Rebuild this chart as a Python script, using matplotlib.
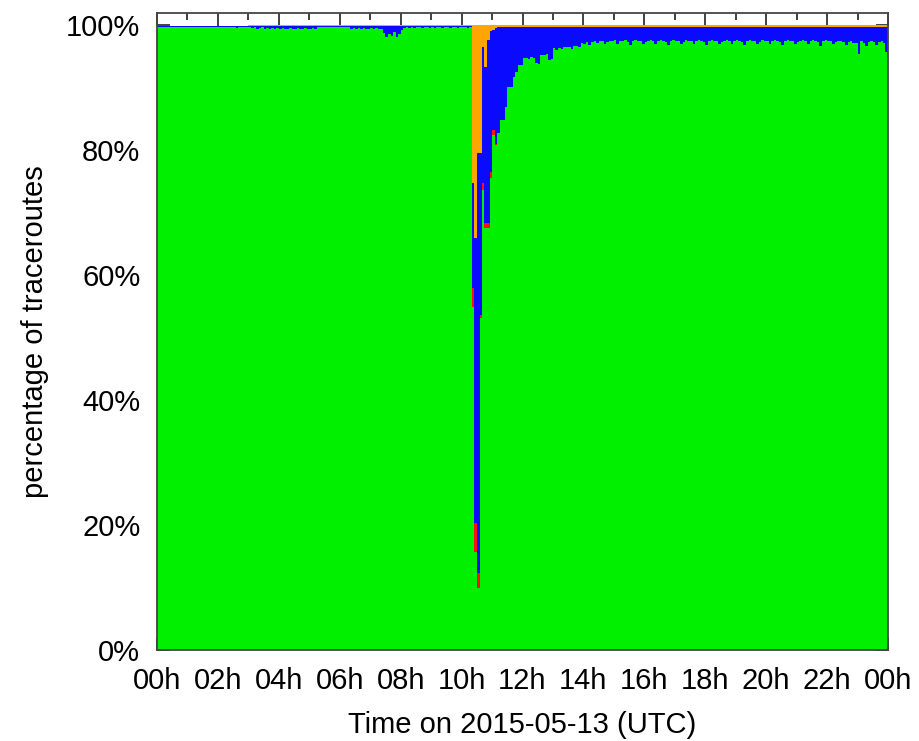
import numpy as np
import matplotlib
matplotlib.use("Agg")
from matplotlib import pyplot as plt
from matplotlib.ticker import MultipleLocator, FuncFormatter

# share of traceroutes per 5-minute bin, 2015-05-13 (one row per hour)
green = [
    99.7, 99.7, 99.6, 99.7, 99.7, 99.7, 99.6, 99.7, 99.7, 99.7, 99.6, 99.7,
    99.7, 99.7, 99.7, 99.6, 99.7, 99.7, 99.7, 99.7, 99.6, 99.7, 99.7, 99.7,
    99.6, 99.7, 99.7, 99.6, 99.7, 99.6, 99.7, 99.5, 99.6, 99.7, 99.6, 99.6,
    99.6, 99.5, 99.6, 99.4, 99.5, 99.6, 99.4, 99.5, 99.3, 99.5, 99.4, 99.5,
    99.4, 99.5, 99.3, 99.4, 99.5, 99.3, 99.4, 99.5, 99.4, 99.3, 99.5, 99.4,
    99.4, 99.5, 99.3, 99.6, 99.6, 99.7, 99.6, 99.6, 99.7, 99.6, 99.6, 99.7,
    99.6, 99.6, 99.7, 99.6, 99.4, 99.5, 99.4, 99.5, 99.3, 99.5, 99.4, 99.4,
    99.5, 99.4, 99.5, 99.3, 99.4, 98.7, 98.0, 98.6, 98.2, 98.9, 98.1, 98.6,
    99.2, 99.5, 99.6, 99.5, 99.6, 99.5, 99.6, 99.6, 99.5, 99.6, 99.6, 99.5,
    99.6, 99.5, 99.6, 99.6, 99.5, 99.6, 99.6, 99.5, 99.6, 99.6, 99.5, 99.6,
    99.6, 99.6, 99.5, 99.6, 54.9, 15.7, 9.9, 53.1, 73.6, 67.5, 67.5, 75.5,
    82.4, 80.8, 82.7, 84.8, 84.8, 86.9, 90.1, 90.1, 91.7, 92.5, 93.6, 93.6,
    94.7, 94.7, 94.5, 94.8, 94.7, 93.9, 93.7, 95.2, 95.2, 95.3, 94.4, 94.5,
    96.3, 96.0, 96.3, 96.1, 96.4, 96.4, 96.5, 96.2, 96.6, 96.7, 96.4, 97.1,
    97.0, 97.2, 96.8, 97.3, 97.4, 97.1, 97.4, 97.5, 96.9, 97.3, 97.5, 97.4,
    97.6, 97.0, 97.4, 97.5, 97.6, 97.3, 96.8, 97.4, 97.6, 97.5, 97.4, 96.9,
    97.3, 97.5, 97.6, 97.4, 97.0, 97.5, 97.6, 97.5, 97.3, 96.8, 97.4, 97.6,
    97.5, 97.4, 96.9, 97.3, 97.6, 97.5, 97.4, 97.0, 97.4, 97.6, 97.5, 97.3,
    96.8, 97.4, 97.6, 97.5, 97.4, 96.9, 97.3, 97.5, 97.6, 97.4, 97.0, 97.5,
    97.6, 97.5, 97.3, 96.8, 97.4, 97.6, 97.5, 97.4, 96.9, 97.3, 97.6, 97.5,
    97.4, 97.0, 97.4, 97.6, 97.5, 97.3, 96.8, 97.4, 97.6, 97.5, 97.4, 96.9,
    97.3, 97.5, 97.6, 97.4, 97.0, 97.5, 97.6, 97.5, 97.3, 96.7, 97.4, 97.6,
    97.5, 97.4, 96.9, 97.3, 97.5, 97.4, 97.3, 96.8, 97.2, 97.5, 97.1, 97.1,
    95.3, 97.4, 97.1, 96.7, 97.3, 97.4, 97.2, 96.8, 97.3, 97.4, 97.1, 95.7,
]

red = [
    0, 0, 0, 0, 0, 0, 0, 0, 0, 0, 0, 0,
    0, 0, 0, 0, 0, 0, 0, 0, 0, 0, 0, 0,
    0, 0, 0, 0, 0, 0, 0, 0, 0, 0, 0, 0,
    0, 0, 0, 0, 0, 0, 0, 0, 0, 0, 0, 0,
    0, 0, 0, 0, 0, 0, 0, 0, 0, 0, 0, 0,
    0, 0, 0, 0, 0, 0, 0, 0, 0, 0, 0, 0,
    0, 0, 0, 0, 0, 0, 0, 0, 0, 0, 0, 0,
    0, 0, 0, 0, 0, 0, 0, 0, 0, 0, 0, 0,
    0, 0, 0, 0, 0, 0, 0, 0, 0, 0, 0, 0,
    0, 0, 0, 0, 0, 0, 0, 0, 0, 0, 0, 0,
    0, 0, 0, 0, 3.0, 4.6, 2.4, 0.5, 1.1, 0.8, 0.8, 1.0,
    0.8, 0.2, 0, 0, 0, 0, 0, 0, 0, 0, 0, 0,
    0, 0, 0, 0, 0, 0, 0, 0, 0, 0, 0, 0,
    0, 0, 0, 0, 0, 0, 0, 0, 0, 0, 0, 0,
    0, 0, 0, 0, 0, 0, 0, 0, 0, 0, 0, 0,
    0, 0, 0, 0, 0, 0, 0, 0, 0, 0, 0, 0,
    0, 0, 0, 0, 0, 0, 0, 0, 0, 0, 0, 0,
    0, 0, 0, 0, 0, 0, 0, 0, 0, 0, 0, 0,
    0, 0, 0, 0, 0, 0, 0, 0, 0, 0, 0, 0,
    0, 0, 0, 0, 0, 0, 0, 0, 0, 0, 0, 0,
    0, 0, 0, 0, 0, 0, 0, 0, 0, 0, 0, 0,
    0, 0, 0, 0, 0, 0, 0, 0, 0, 0, 0, 0,
    0, 0, 0, 0, 0, 0, 0, 0, 0, 0, 0, 0,
    0, 0, 0, 0, 0, 0, 0, 0, 0, 0, 0, 0,
]

blue = [
    0.1, 0.1, 0.2, 0.1, 0.1, 0.1, 0.2, 0.1, 0.1, 0.1, 0.2, 0.1,
    0.1, 0.1, 0.1, 0.2, 0.1, 0.1, 0.1, 0.1, 0.2, 0.1, 0.1, 0.1,
    0.2, 0.1, 0.1, 0.2, 0.1, 0.2, 0.1, 0.3, 0.2, 0.1, 0.2, 0.2,
    0.3, 0.4, 0.3, 0.5, 0.4, 0.3, 0.5, 0.4, 0.6, 0.4, 0.5, 0.4,
    0.5, 0.4, 0.6, 0.5, 0.4, 0.6, 0.5, 0.4, 0.5, 0.6, 0.4, 0.5,
    0.5, 0.4, 0.6, 0.3, 0.3, 0.2, 0.3, 0.3, 0.2, 0.3, 0.3, 0.2,
    0.3, 0.3, 0.2, 0.3, 0.5, 0.4, 0.5, 0.4, 0.6, 0.4, 0.5, 0.5,
    0.4, 0.5, 0.4, 0.6, 0.5, 1.2, 1.9, 1.3, 1.7, 1.0, 1.8, 1.3,
    0.7, 0.4, 0.3, 0.4, 0.3, 0.4, 0.3, 0.3, 0.4, 0.3, 0.3, 0.4,
    0.3, 0.4, 0.3, 0.3, 0.4, 0.3, 0.3, 0.4, 0.3, 0.3, 0.4, 0.3,
    0.3, 0.3, 0.4, 0.3, 16.8, 45.6, 67.2, 25.9, 21.8, 25.0, 29.3, 22.5,
    16.0, 18.5, 16.9, 14.9, 14.9, 12.8, 9.6, 9.6, 8.0, 7.2, 6.1, 6.1,
    5.0, 5.0, 5.2, 4.9, 5.0, 5.8, 6.0, 4.5, 4.5, 4.4, 5.3, 5.2,
    3.4, 3.7, 3.4, 3.6, 3.3, 3.3, 3.2, 3.5, 3.1, 3.0, 3.3, 2.6,
    2.7, 2.5, 2.9, 2.4, 2.3, 2.6, 2.3, 2.2, 2.8, 2.4, 2.2, 2.3,
    2.1, 2.7, 2.3, 2.2, 2.1, 2.4, 2.9, 2.3, 2.1, 2.2, 2.3, 2.8,
    2.4, 2.2, 2.1, 2.3, 2.7, 2.2, 2.1, 2.2, 2.4, 2.9, 2.3, 2.1,
    2.2, 2.3, 2.8, 2.4, 2.1, 2.2, 2.3, 2.7, 2.3, 2.1, 2.2, 2.4,
    2.9, 2.3, 2.1, 2.2, 2.3, 2.8, 2.4, 2.2, 2.1, 2.3, 2.7, 2.2,
    2.1, 2.2, 2.4, 2.9, 2.3, 2.1, 2.2, 2.3, 2.8, 2.4, 2.1, 2.2,
    2.3, 2.7, 2.3, 2.1, 2.2, 2.4, 2.9, 2.3, 2.1, 2.2, 2.3, 2.8,
    2.4, 2.2, 2.1, 2.3, 2.7, 2.2, 2.1, 2.2, 2.4, 3.0, 2.3, 2.1,
    2.2, 2.3, 2.8, 2.4, 2.2, 2.3, 2.4, 2.9, 2.5, 2.2, 2.6, 2.6,
    4.4, 2.3, 2.6, 3.0, 2.4, 2.3, 2.5, 2.9, 2.4, 2.3, 2.6, 4.0,
]

orange = [
    0.1, 0.1, 0.1, 0.1, 0.1, 0.1, 0.1, 0.1, 0.1, 0.1, 0.1, 0.1,
    0.1, 0.1, 0.1, 0.1, 0.1, 0.1, 0.1, 0.1, 0.1, 0.1, 0.1, 0.1,
    0.1, 0.1, 0.1, 0.1, 0.1, 0.1, 0.1, 0.1, 0.1, 0.1, 0.1, 0.1,
    0.1, 0.1, 0.1, 0.1, 0.1, 0.1, 0.1, 0.1, 0.1, 0.1, 0.1, 0.1,
    0.1, 0.1, 0.1, 0.1, 0.1, 0.1, 0.1, 0.1, 0.1, 0.1, 0.1, 0.1,
    0.1, 0.1, 0.1, 0.1, 0.1, 0.1, 0.1, 0.1, 0.1, 0.1, 0.1, 0.1,
    0.1, 0.1, 0.1, 0.1, 0.1, 0.1, 0.1, 0.1, 0.1, 0.1, 0.1, 0.1,
    0.1, 0.1, 0.1, 0.1, 0.1, 0.1, 0.1, 0.1, 0.1, 0.1, 0.1, 0.1,
    0.1, 0.1, 0.1, 0.1, 0.1, 0.1, 0.1, 0.1, 0.1, 0.1, 0.1, 0.1,
    0.1, 0.1, 0.1, 0.1, 0.1, 0.1, 0.1, 0.1, 0.1, 0.1, 0.1, 0.1,
    0.1, 0.1, 0.1, 0.1, 25.3, 34.1, 20.5, 20.5, 3.5, 6.7, 2.4, 1.0,
    0.8, 0.5, 0.4, 0.3, 0.3, 0.3, 0.3, 0.3, 0.3, 0.3, 0.3, 0.3,
    0.3, 0.3, 0.3, 0.3, 0.3, 0.3, 0.3, 0.3, 0.3, 0.3, 0.3, 0.3,
    0.3, 0.3, 0.3, 0.3, 0.3, 0.3, 0.3, 0.3, 0.3, 0.3, 0.3, 0.3,
    0.3, 0.3, 0.3, 0.3, 0.3, 0.3, 0.3, 0.3, 0.3, 0.3, 0.3, 0.3,
    0.3, 0.3, 0.3, 0.3, 0.3, 0.3, 0.3, 0.3, 0.3, 0.3, 0.3, 0.3,
    0.3, 0.3, 0.3, 0.3, 0.3, 0.3, 0.3, 0.3, 0.3, 0.3, 0.3, 0.3,
    0.3, 0.3, 0.3, 0.3, 0.3, 0.3, 0.3, 0.3, 0.3, 0.3, 0.3, 0.3,
    0.3, 0.3, 0.3, 0.3, 0.3, 0.3, 0.3, 0.3, 0.3, 0.3, 0.3, 0.3,
    0.3, 0.3, 0.3, 0.3, 0.3, 0.3, 0.3, 0.3, 0.3, 0.3, 0.3, 0.3,
    0.3, 0.3, 0.3, 0.3, 0.3, 0.3, 0.3, 0.3, 0.3, 0.3, 0.3, 0.3,
    0.3, 0.3, 0.3, 0.3, 0.3, 0.3, 0.3, 0.3, 0.3, 0.3, 0.3, 0.3,
    0.3, 0.3, 0.3, 0.3, 0.3, 0.3, 0.3, 0.3, 0.3, 0.3, 0.3, 0.3,
    0.3, 0.3, 0.3, 0.3, 0.3, 0.3, 0.3, 0.3, 0.3, 0.3, 0.3, 0.3,
]

bin_minutes = 5
hour_ticks = [0, 2, 4, 6, 8, 10, 12, 14, 16, 18, 20, 22, 24]
hour_labels = ["00h", "02h", "04h", "06h", "08h", "10h", "12h",
               "14h", "16h", "18h", "20h", "22h", "00h"]

plt.rcParams['font.family'] = ['Liberation Sans', 'DejaVu Sans']

t = np.arange(len(green)) * bin_minutes / 60.0
# a touch wider than the bin so neighbouring bars leave no hairline gaps
w = bin_minutes / 60.0 * 1.08

fig = plt.figure(figsize=(9.19, 7.41), dpi=100)
ax = fig.add_axes([157/919, 1 - 650/741, (888 - 157)/919, (650 - 13)/741])

g = np.array(green)
r = np.array(red)
b = np.array(blue)
o = np.array(orange)
ax.bar(t, g, width=w, align='edge', color='#00f000', linewidth=0)
ax.bar(t, r, width=w, align='edge', bottom=g, color='#ff1010', linewidth=0)
ax.bar(t, b, width=w, align='edge', bottom=g + r, color='#0a0aff', linewidth=0)
ax.bar(t, o, width=w, align='edge', bottom=g + r + b, color='#ffa500', linewidth=0)

ax.set_xlim(0, 24)
ax.set_ylim(0, 101.9)
ax.set_axisbelow(True)
ax.set_xticks(hour_ticks)
ax.set_xticklabels(hour_labels)
ax.xaxis.set_minor_locator(MultipleLocator(1))
ax.set_yticks([0, 20, 40, 60, 80, 100])
ax.yaxis.set_major_formatter(FuncFormatter(lambda v, p: "%d%%" % v))
ax.tick_params(which='both', direction='in', top=True, right=True,
               labelsize=21, color='#333333', width=1.3)
ax.tick_params(which='major', length=9, pad=12)
ax.tick_params(which='minor', length=5)
ax.tick_params(axis='y', pad=12)
for s in ax.spines.values():
    s.set_color('#444444')
    s.set_linewidth(1.3)

ax.set_xlabel("Time on 2015-05-13 (UTC)", fontsize=21, labelpad=12)
ax.set_ylabel("percentage of traceroutes", fontsize=21, labelpad=12)

fig.savefig("out.png", dpi=100)
